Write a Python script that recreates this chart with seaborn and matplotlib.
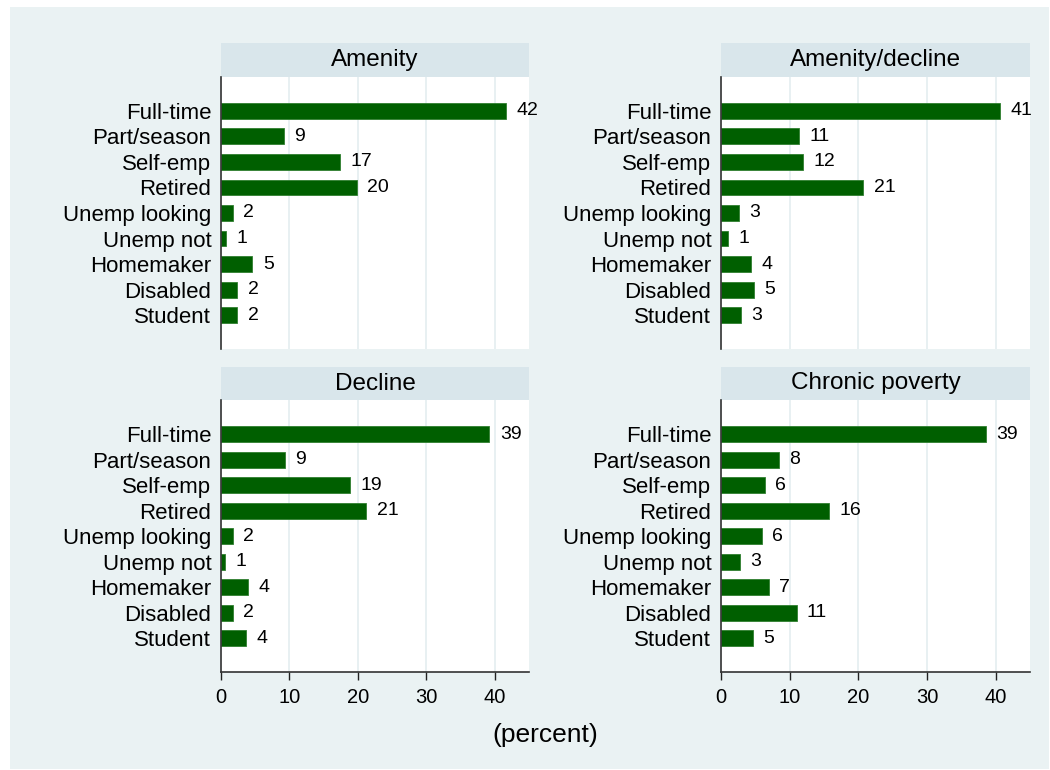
import matplotlib
matplotlib.use("Agg")
import matplotlib.pyplot as plt
import seaborn as sns
import pandas as pd
from matplotlib.patches import Rectangle

# --- data (percent) ---
categories = ["Full-time", "Part/season", "Self-emp", "Retired", "Unemp looking",
              "Unemp not", "Homemaker", "Disabled", "Student"]
panels = ["Amenity", "Amenity/decline", "Decline", "Chronic poverty"]

amenity = [41.6, 9.2, 17.4, 19.8, 1.7, 0.8, 4.6, 2.4, 2.4]
amenity_decline = [40.6, 11.4, 11.9, 20.7, 2.6, 1.0, 4.4, 4.8, 2.9]
decline = [39.2, 9.3, 18.8, 21.2, 1.7, 0.6, 4.0, 1.7, 3.6]
chronic_poverty = [38.6, 8.4, 6.4, 15.7, 5.9, 2.7, 7.0, 11.0, 4.6]

x_ticks = [0, 10, 20, 30, 40]

values = [amenity, amenity_decline, decline, chronic_poverty]
df = pd.DataFrame({
    "panel": [p for p, v in zip(panels, values) for _ in v],
    "status": categories * len(panels),
    "percent": [x for v in values for x in v],
})

# --- style ---
sns.set_theme(style="white")
plt.rcParams["font.family"] = ["Liberation Sans", "DejaVu Sans"]

GREEN = "#005F00"
BG = "#EAF2F3"
STRIP = "#D9E6EB"
GRID = "#E6EFF1"

W, H = 1050, 770
fig = plt.figure(figsize=(W / 100, H / 100), dpi=100, facecolor="white")
fig.patches.append(Rectangle((10 / W, 1 / H), 1039 / W, 762 / H, transform=fig.transFigure,
                             facecolor=BG, edgecolor="none", zorder=-10))

# pixel boxes: (left, right) columns, (header top, plot top, plot bottom) rows
cols = [(221, 529), (721, 1030)]
rows = [(43.3, 76.7, 349.3), (366.7, 400.3, 672.3)]

for i, name in enumerate(panels):
    r, c = divmod(i, 2)
    x0, x1 = cols[c]
    htop, ptop, pbot = rows[r]

    # strip header
    hax = fig.add_axes([x0 / W, 1 - ptop / H, (x1 - x0) / W, (ptop - htop) / H])
    hax.set_facecolor(STRIP)
    hax.set_xticks([]); hax.set_yticks([])
    for s in hax.spines.values():
        s.set_visible(False)
    hax.text(0.5, 0.5, name, ha="center", va="center", fontsize=17.5, color="black",
             transform=hax.transAxes)

    ax = fig.add_axes([x0 / W, 1 - pbot / H, (x1 - x0) / W, (pbot - ptop) / H])
    ax.set_facecolor("white")
    sub = df[df["panel"] == name]
    sns.barplot(data=sub, x="percent", y="status", order=categories, color=GREEN,
                saturation=1, width=0.62, errorbar=None, edgecolor="#2F7F2F",
                linewidth=0.6, ax=ax)
    ax.bar_label(ax.containers[0], fmt="%.0f", padding=7.5, fontsize=14, color="black")

    ax.set_xlim(0, 45)
    ax.set_ylim(8 + 1.33, -1.33)
    ax.set_xticks(x_ticks)
    ax.grid(axis="x", color=GRID, lw=1.3)
    ax.set_axisbelow(True)
    ax.set_xlabel("")
    ax.set_ylabel("")

    for s in ["top", "right"]:
        ax.spines[s].set_visible(False)
    ax.spines["left"].set_color("#333333")
    ax.spines["left"].set_linewidth(1.2)
    ax.tick_params(axis="y", length=0, pad=7, labelsize=16, colors="black")
    if r == 1:
        ax.spines["bottom"].set_color("#333333")
        ax.spines["bottom"].set_linewidth(1.2)
        ax.tick_params(axis="x", length=6, width=1, direction="out", pad=5,
                       labelsize=14.5, colors="#222222", labelcolor="black", bottom=True)
    else:
        ax.spines["bottom"].set_visible(False)
        ax.tick_params(axis="x", length=0, labelbottom=False)

fig.text(545 / W, 1 - 735 / H, "(percent)", ha="center", va="center", fontsize=19,
         color="black")

fig.savefig("out.png", dpi=100)
